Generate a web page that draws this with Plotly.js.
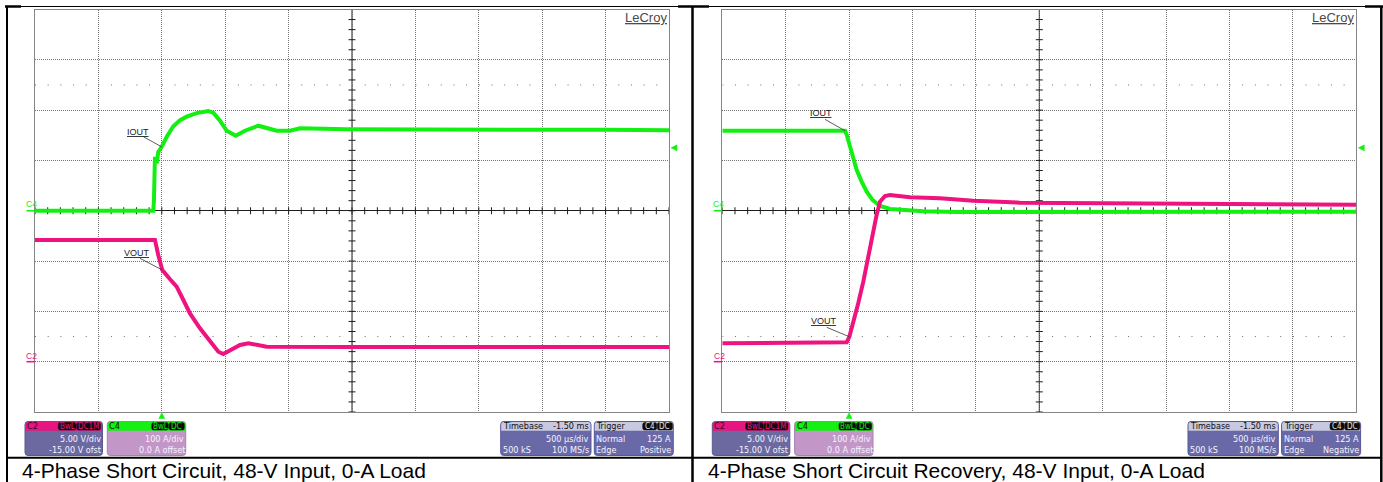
<!DOCTYPE html>
<html>
<head>
<meta charset="utf-8">
<script src="https://cdn.plot.ly/plotly-3.0.1.min.js"></script>
<style>
  html, body { margin: 0; padding: 0; background: #ffffff; }
  #scope { width: 1383px; height: 482px; }
</style>
</head>
<body>
<div id="scope"></div>
<script>
// ---- Scope settings (shared by both captures) ----
const msPerDiv = 0.5;          // 500 µs/div
const triggerDiv = 2;          // trigger point sits 2 divisions from the left edge
const ampsPerDiv = 100;        // C4: 100 A/div, 0 A offset
const voltsPerDiv = 5;         // C2: 5 V/div
const voltOffset = -15;        // C2: -15 V offset
const trigLevelA = 125;        // trigger level on C4

// ---- Captions ----
const captions = [
  "4-Phase Short Circuit, 48-V Input, 0-A Load",
  "4-Phase Short Circuit Recovery, 48-V Input, 0-A Load"
];
const triggerSlopes = ["Positive", "Negative"];

// ---- Short circuit: time (ms from trigger) and traces ----
const scTimeI = [-1.0, -0.067, -0.062, -0.054, -0.040, -0.028, -0.001, 0.039, 0.091, 0.144, 0.196, 0.275,
                 0.367, 0.406, 0.459, 0.512, 0.583, 0.656, 0.761, 0.827, 0.906, 1.011, 1.090, 1.459,
                 2.0, 2.5, 3.0, 3.5, 4.0];
const scIout  = [0, 0, 21, 107, 94, 117, 127, 147, 168, 180, 187, 194,
                 198, 195, 179, 159, 149, 159, 169, 164, 159, 159, 164, 162,
                 161, 162, 161, 161, 160];
const scTimeV = [-1.0, -0.054, -0.028, 0.004, 0.065, 0.117, 0.170, 0.222, 0.301, 0.380, 0.446, 0.485,
                 0.538, 0.617, 0.683, 0.748, 0.827, 1.5, 2.5, 3.5, 4.0];
const scVout  = [12.1, 12.1, 10.6, 9.11, 8.19, 7.45, 6.13, 4.80, 3.32, 1.99, 0.99, 0.76,
                 1.09, 1.66, 1.83, 1.66, 1.49, 1.47, 1.46, 1.45, 1.45];

// ---- Short-circuit recovery: time (ms from trigger) and traces ----
const rcTimeI = [-1.0, -0.032, -0.019, 0.002, 0.025, 0.060, 0.099, 0.139, 0.186, 0.244, 0.323, 0.427,
                 0.585, 0.849, 1.348, 2.0, 3.0, 4.0];
const rcIout  = [159, 159, 151, 131, 107, 81, 58, 38, 21, 9.4, 3.5, 0.9,
                 -1.1, -2.5, -2.5, -2, -2, -2];
const rcTimeV = [-1.0, -0.019, 0.002, 0.033, 0.072, 0.112, 0.151, 0.186, 0.217, 0.244, 0.283, 0.323,
                 0.428, 0.480, 0.717, 0.980, 1.348, 2.0, 3.0, 3.5, 4.0];
const rcVout  = [1.83, 1.92, 2.48, 3.81, 5.80, 7.95, 10.43, 12.76, 14.58, 15.90, 16.47, 16.57,
                 16.47, 16.34, 16.24, 16.00, 15.80, 15.74, 15.70, 15.64, 15.60];

// ---- Readout text ----
const ch2Readout = ["5.00 V/div", "-15.00 V ofst"];
const ch4Readout = ["100 A/div", "0.0 A offset"];
const timebaseReadout = ["-1.50 ms", "500 µs/div", "500 kS", "100 MS/s"];

// ---------------------------------------------------------------
const W = 1383, H = 482;
const px = x => x / W;
const py = y => 1 - y / H;

const PLOT_TOP = 9.5, PLOT_BOTTOM = 412, PLOT_W = 634;
const GREEN = '#12f012', MAGENTA = '#ef1380';
const GRID = '#757575', FRAME = '#858585', DARK = '#1e1e1e';
const UI_FONT = 'Liberation Sans Narrow, DejaVu Sans Condensed, Liberation Sans, Arial, sans-serif';
const SANS = 'Liberation Sans, Arial, sans-serif';

const timeRange = [-triggerDiv * msPerDiv, (10 - triggerDiv) * msPerDiv];
const ampRange = [-4 * ampsPerDiv, 4 * ampsPerDiv];
const voltRange = [-voltOffset - 4 * voltsPerDiv, -voltOffset + 4 * voltsPerDiv];
const centerTime = timeRange[0] + 5 * msPerDiv;

const panels = [
  { left: 35, tI: scTimeI, I: scIout, tV: scTimeV, V: scVout, caption: captions[0], slope: triggerSlopes[0], capX: 21.5,
    labels: [ { text: 'IOUT', ch: 'I', idx: 6, tx: -11.7, ty: 15.2, lx: -18.4, ly: 10.2 },
              { text: 'VOUT', ch: 'V', idx: 3, tx: -11.3, ty: 16.7, lx: -22.3, ly: 11.7 } ] },
  { left: 722.3, tI: rcTimeI, I: rcIout, tV: rcTimeV, V: rcVout, caption: captions[1], slope: triggerSlopes[1], capX: 708,
    labels: [ { text: 'IOUT', ch: 'I', idx: 1, tx: -12.3, ty: 17.4, lx: -20, ly: 11.4 },
              { text: 'VOUT', ch: 'V', idx: 2, tx: -11, ty: 15.7, lx: -22.6, ly: 9.4 } ] }
];

const layout = {
  width: W, height: H, autosize: false,
  margin: { l: 0, r: 0, t: 0, b: 0, pad: 0 },
  paper_bgcolor: '#ffffff', plot_bgcolor: '#ffffff',
  showlegend: false, hovermode: false,
  shapes: [], annotations: []
};
const data = [];

function P(x, y) { return px(x).toFixed(5) + ',' + py(y).toFixed(5); }

// rounded rectangle in page pixels, converted to paper coordinates
function rrect(x0, y0, x1, y1, r, top, bottom) {
  let d = top
    ? `M${P(x0, y0 + r)} Q${P(x0, y0)} ${P(x0 + r, y0)} L${P(x1 - r, y0)} Q${P(x1, y0)} ${P(x1, y0 + r)}`
    : `M${P(x0, y0)} L${P(x1, y0)}`;
  d += bottom
    ? ` L${P(x1, y1 - r)} Q${P(x1, y1)} ${P(x1 - r, y1)} L${P(x0 + r, y1)} Q${P(x0, y1)} ${P(x0, y1 - r)}`
    : ` L${P(x1, y1)} L${P(x0, y1)}`;
  return d + ' Z';
}

function pathShape(d, fill, line, lw) {
  layout.shapes.push({ type: 'path', xref: 'paper', yref: 'paper', path: d, fillcolor: fill,
    line: { color: line || fill, width: lw === undefined ? 1 : lw }, layer: 'above' });
}

function text(x, y, s, opts) {
  opts = opts || {};
  layout.annotations.push({
    xref: 'paper', yref: 'paper', x: px(x), y: py(y), text: s, showarrow: false,
    xanchor: opts.anchor || 'left', yanchor: 'middle', borderpad: 0, borderwidth: 0,
    font: { family: opts.family || UI_FONT, size: opts.size || 9, color: opts.color || '#f4f4ff' }
  });
}

function tag(x0, x1, s, color) {
  pathShape(rrect(x0, 422.6, x1, 430, 2, true, true), '#0c0c0c', '#0c0c0c', 0.5);
  text((x0 + x1) / 2, 426.4, s, { anchor: 'center', size: 8, color: color });
}

function readoutBox(x0, x1, headColor, bodyColor, edge) {
  const y0 = 421.5, y1 = 455.5, yh = 430.8;
  pathShape(rrect(x0, y0, x1, y1, 3, true, true), bodyColor, edge, 1);
  pathShape(rrect(x0 + 0.5, y0 + 0.5, x1 - 0.5, yh, 2.5, true, false), headColor, headColor, 0);
}

panels.forEach((p, i) => {
  const L = p.left, R = p.left + PLOT_W;
  const xa = i ? 'x2' : 'x';
  const yI = i ? 'y3' : 'y';
  const yV = i ? 'y4' : 'y2';
  const xKey = i ? 'xaxis2' : 'xaxis';
  const yIKey = i ? 'yaxis3' : 'yaxis';
  const yVKey = i ? 'yaxis4' : 'yaxis2';
  const yDomain = [py(PLOT_BOTTOM), py(PLOT_TOP)];

  layout[xKey] = {
    domain: [px(L), px(R)], range: timeRange, anchor: yI,
    tick0: timeRange[0], dtick: msPerDiv, showgrid: true, gridcolor: GRID, gridwidth: 1, griddash: '1px,1px',
    zeroline: false, showline: true, mirror: true, linecolor: FRAME, linewidth: 1,
    ticks: '', showticklabels: false, fixedrange: true
  };
  layout[yIKey] = {
    domain: yDomain, range: ampRange, anchor: xa,
    tick0: 0, dtick: ampsPerDiv, showgrid: true, gridcolor: GRID, gridwidth: 1, griddash: '1px,1px',
    zeroline: true, zerolinecolor: DARK, zerolinewidth: 1,
    showline: true, mirror: true, linecolor: FRAME, linewidth: 1,
    ticks: '', showticklabels: false, fixedrange: true
  };
  layout[yVKey] = {
    domain: yDomain, range: voltRange, anchor: xa, overlaying: yI,
    showgrid: false, zeroline: false, showline: false, ticks: '', showticklabels: false, fixedrange: true
  };

  // graticule: centre vertical line
  layout.shapes.push({ type: 'line', xref: xa, yref: yI, x0: centerTime, x1: centerTime, y0: ampRange[0], y1: ampRange[1],
    line: { color: DARK, width: 1 }, layer: 'below' });
  // graticule: dotted rows at ±2.5 div with a dot every 0.2 div
  [2.5, -2.5].forEach(d => {
    layout.shapes.push({ type: 'line', xref: xa, yref: yI, x0: timeRange[0], x1: timeRange[1],
      y0: d * ampsPerDiv, y1: d * ampsPerDiv, line: { color: '#6e6e6e', width: 1, dash: '1px,11.68px' }, layer: 'below' });
  });

  // minor tick marks along the centre cross (every 0.2 div)
  const hx = [], hy = [], vx = [], vy = [];
  for (let k = 0; k <= 50; k++) { hx.push(timeRange[0] + k * msPerDiv / 5); hy.push(0); }
  for (let k = 0; k <= 40; k++) { vy.push(ampRange[0] + k * ampsPerDiv / 5); vx.push(centerTime); }
  data.push({ type: 'scatter', mode: 'markers', x: hx, y: hy, xaxis: xa, yaxis: yI, hoverinfo: 'skip',
    marker: { symbol: 'line-ns', size: 5, color: DARK, line: { color: DARK, width: 1 } } });
  data.push({ type: 'scatter', mode: 'markers', x: vx, y: vy, xaxis: xa, yaxis: yI, hoverinfo: 'skip',
    marker: { symbol: 'line-ew', size: 5, color: DARK, line: { color: DARK, width: 1 } } });

  // waveforms
  data.push({ type: 'scatter', mode: 'lines', x: p.tV, y: p.V, xaxis: xa, yaxis: yV, hoverinfo: 'skip',
    line: { color: MAGENTA, width: 4 } });
  data.push({ type: 'scatter', mode: 'lines', x: p.tI, y: p.I, xaxis: xa, yaxis: yI, hoverinfo: 'skip',
    line: { color: GREEN, width: 4 } });

  // IOUT / VOUT callouts with leader lines
  p.labels.forEach(lb => {
    const isI = lb.ch === 'I';
    const x = isI ? p.tI[lb.idx] : p.tV[lb.idx];
    const y = isI ? p.I[lb.idx] : p.V[lb.idx];
    const yr = isI ? yI : yV;
    layout.shapes.push({ type: 'line', xref: xa, yref: yr, xsizemode: 'pixel', ysizemode: 'pixel',
      xanchor: x, yanchor: y, x0: 0, y0: 0, x1: lb.lx, y1: lb.ly, line: { color: '#333', width: 0.8 }, layer: 'above' });
    layout.annotations.push({ xref: xa, yref: yr, x: x, y: y, xshift: lb.tx, yshift: lb.ty,
      text: '<u>' + lb.text + '</u>', showarrow: false, xanchor: 'right', yanchor: 'middle', borderpad: 0,
      font: { family: SANS, size: 9, color: '#222' } });
  });

  // channel ground markers
  layout.shapes.push({ type: 'line', xref: 'paper', yref: yI, x0: px(L - 8.5), x1: px(L), y0: 0, y1: 0,
    line: { color: GREEN, width: 1.5 }, layer: 'above' });
  layout.shapes.push({ type: 'line', xref: 'paper', yref: yV, x0: px(L - 8.5), x1: px(L), y0: 0, y1: 0,
    line: { color: MAGENTA, width: 1.5 }, layer: 'above' });
  layout.annotations.push({ xref: 'paper', yref: yI, x: px(L - 10.5), y: 0, yshift: 6.5, text: 'C4', showarrow: false,
    xanchor: 'left', yanchor: 'middle', borderpad: 0, font: { family: SANS, size: 8.5, color: GREEN } });
  layout.annotations.push({ xref: 'paper', yref: yV, x: px(L - 9.5), y: 0, yshift: 6, text: 'C2', showarrow: false,
    xanchor: 'left', yanchor: 'middle', borderpad: 0, font: { family: SANS, size: 8.5, color: MAGENTA } });

  // trigger time marker (below the grid) and trigger level marker (right edge)
  layout.shapes.push({ type: 'path', xref: xa, yref: 'paper', xsizemode: 'pixel', xanchor: 0,
    path: `M-3,${py(418.5).toFixed(5)} L3,${py(418.5).toFixed(5)} L0,${py(412.8).toFixed(5)} Z`,
    fillcolor: GREEN, line: { color: GREEN, width: 0.5 }, layer: 'above' });
  layout.shapes.push({ type: 'path', xref: 'paper', yref: yI, ysizemode: 'pixel', yanchor: trigLevelA,
    path: `M${px(R + 2).toFixed(5)},0 L${px(R + 8).toFixed(5)},3 L${px(R + 8).toFixed(5)},-3 Z`,
    fillcolor: GREEN, line: { color: GREEN, width: 0.5 }, layer: 'above' });

  // logo
  layout.annotations.push({ xref: 'paper', yref: 'paper', x: px(R - 1), y: py(17.5), text: '<u>LeCroy</u>',
    showarrow: false, xanchor: 'right', yanchor: 'middle', borderpad: 0,
    font: { family: SANS, size: 13, color: '#4a4a4a' } });

  // readout boxes
  const c2x0 = L - 10, c2x1 = L + 67.5;
  readoutBox(c2x0, c2x1, '#e8147f', '#6b69a0', '#5a5890');
  text(c2x0 + 2, 426.2, 'C2', { color: '#3a0a22' });
  tag(L + 23.3, L + 41, 'BwL', '#e8147f');
  tag(L + 41.7, L + 65.5, 'DC1M', '#e8147f');
  text(c2x1 - 2, 438.6, ch2Readout[0], { anchor: 'right' });
  text(c2x1 - 2, 450.2, ch2Readout[1], { anchor: 'right' });

  const c4x0 = L + 72.3, c4x1 = L + 150.7;
  readoutBox(c4x0, c4x1, '#14f014', '#c297c8', '#a880b0');
  text(c4x0 + 2, 426.2, 'C4', { color: '#0a0a0a' });
  tag(L + 116.7, L + 133.3, 'BwL', '#14f014');
  tag(L + 134.1, L + 149.3, 'DC', '#14f014');
  text(c4x1 - 2, 438.6, ch4Readout[0], { anchor: 'right' });
  text(c4x1 - 0.5, 450.2, ch4Readout[1], { anchor: 'right' });

  const tbx0 = L + 465.7, tbx1 = L + 556;
  readoutBox(tbx0, tbx1, '#c8c8e0', '#6a69a8', '#58579a');
  text(tbx0 + 2, 426.2, 'Timebase', { color: '#101010' });
  text(tbx1 - 2, 426.2, timebaseReadout[0], { anchor: 'right', color: '#101010' });
  text(tbx1 - 2, 438.6, timebaseReadout[1], { anchor: 'right' });
  text(tbx0 + 2, 450.2, timebaseReadout[2]);
  text(tbx1 - 2, 450.2, timebaseReadout[3], { anchor: 'right' });

  const trx0 = L + 559.3, trx1 = L + 638.3;
  readoutBox(trx0, trx1, '#c8c8e0', '#6a69a8', '#58579a');
  text(trx0 + 2, 426.2, 'Trigger', { color: '#101010' });
  tag(L + 607.7, L + 621.7, 'C4', '#e8e8e8');
  tag(L + 622.3, L + 637.5, 'DC', '#e8e8e8');
  text(trx0 + 2, 438.6, 'Normal');
  text(trx1 - 2, 438.6, trigLevelA + ' A', { anchor: 'right' });
  text(trx0 + 2, 450.2, 'Edge');
  text(trx1 - 2, 450.2, p.slope, { anchor: 'right' });

  // caption
  text(p.capX, 470, p.caption, { family: SANS, size: 21, color: '#000000' });
});

// table rules around the two captures
function rule(x0, y0, x1, y1, w) {
  layout.shapes.push({ type: 'line', xref: 'paper', yref: 'paper', x0: px(x0), y0: py(y0), x1: px(x1), y1: py(y1),
    line: { color: '#000000', width: w }, layer: 'above' });
}
rule(6, 6.5, 1382, 6.5, 1);
rule(5, 6.5, 21, 6.5, 2.5);
rule(678, 6.5, 709, 6.5, 2.5);
rule(1365, 6.5, 1383, 6.5, 2.5);
rule(7, 6, 7, 482, 2);
rule(692.5, 6, 692.5, 482, 2.5);
rule(1381.3, 6, 1381.3, 482, 2.5);
rule(6, 457.7, 1382, 457.7, 2);

Plotly.newPlot('scope', data, layout, { staticPlot: true, displayModeBar: false });
</script>
</body>
</html>
